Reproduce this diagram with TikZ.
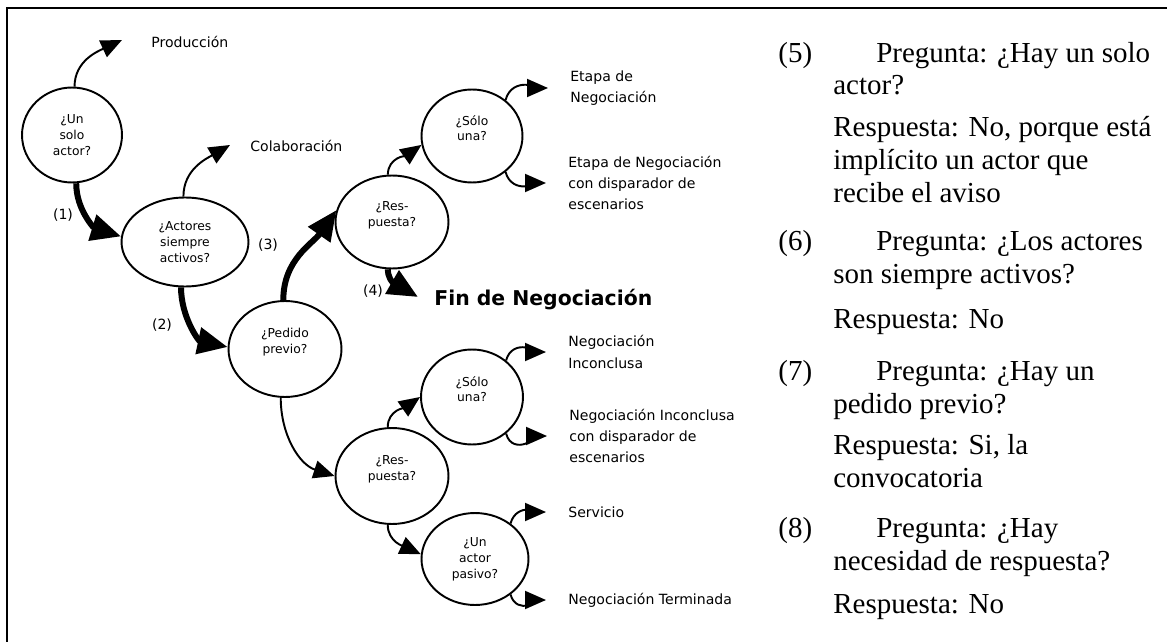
\documentclass[tikz,border=0pt]{standalone}
\usepackage{fontspec}
\setmainfont{Liberation Serif}
\newfontfamily\diagfont{DejaVu Sans}
\usepackage{tikz}
\usetikzlibrary{shapes.geometric, arrows.meta, positioning}

\begin{document}
\begin{tikzpicture}[
    x=0.02cm, y=0.02cm,
    decision/.style={ellipse, draw, line width=1.1pt, inner sep=0pt, align=center, font=\diagfont\fontsize{7}{9}\selectfont},
    outcome/.style={anchor=west, inner sep=0pt, align=left, font=\diagfont\fontsize{8}{12.2}\selectfont},
    num/.style={inner sep=0pt, font=\diagfont\fontsize{8}{10}\selectfont},
    answer/.style={anchor=base west, inner sep=0pt, align=left, font=\fontsize{16.5}{18.7}\selectfont},
    flow/.style={-{Triangle[length=0.42cm, width=0.36cm]}, line width=1.1pt},
    mainflow/.style={-{Triangle[length=0.6cm, width=0.52cm]}, line width=3.4pt},
    tolabel/.style={shorten >=0.44cm}
]
\useasboundingbox (0,0) rectangle (1167,-642);

% Frame
\draw[line width=1.4pt] (7,-642) -- (7,-8) -- (1167,-8);

% Decisions
\node[decision, minimum width=2cm, minimum height=1.9cm] (solo) at (72,-135) {¿Un\\solo\\actor?};
\node[decision, minimum width=2.54cm, minimum height=1.78cm] (activos) at (185,-242) {¿Actores\\siempre\\activos?};
\node[decision, minimum width=2.26cm, minimum height=1.92cm] (pedido) at (285,-349) {¿Pedido\\previo?\\\mbox{}};
\node[decision, minimum width=2.26cm, minimum height=1.86cm] (resp1) at (392,-222) {¿Res-\\puesta?\\\mbox{}};
\node[decision, minimum width=2.02cm, minimum height=1.86cm] (sola1) at (472,-136) {¿Sólo\\una?\\\mbox{}};
\node[decision, minimum width=2.26cm, minimum height=1.92cm] (resp2) at (392,-476) {¿Res-\\puesta?\\\mbox{}};
\node[decision, minimum width=2.04cm, minimum height=1.9cm] (sola2) at (472,-397) {¿Sólo\\una?\\\mbox{}};
\node[decision, minimum width=2.14cm, minimum height=1.84cm] (pasivo) at (475,-559) {¿Un\\actor\\pasivo?};

% Outcomes
\node[outcome] (prod) at (151,-42) {Producción};
\node[outcome] (colab) at (250,-146) {Colaboración};
\node[outcome] (etapa) at (570,-88) {Etapa de\\Negociación};
\node[outcome] (etapadisp) at (568,-183) {Etapa de Negociación\\con disparador de\\escenarios};
\node[outcome] (inconc) at (568,-352) {Negociación\\Inconclusa};
\node[outcome] (inconcdisp) at (569,-436) {Negociación Inconclusa\\con disparador de\\escenarios};
\node[outcome] (servicio) at (568,-512) {Servicio};
\node[outcome] (terminada) at (568,-600) {Negociación Terminada};
\node[anchor=base west, inner sep=0pt, font=\diagfont\bfseries\fontsize{11.6}{14}\selectfont] (fin) at (434,-305) {Fin de Negociación};

% Step numbers
\node[num] (n1) at (63,-215) {(1)};
\node[num] (n2) at (162,-325) {(2)};
\node[num] (n3) at (268,-245) {(3)};
\node[num] (n4) at (373,-291) {(4)};

\coordinate (prodtip) at (122,-40);
\coordinate (colabtip) at (230,-145);
\coordinate (fintip) at (418,-297);

% Main path
\draw[mainflow] (solo.-85) to[out=-90, in=163] (activos.175);
\draw[mainflow] (activos.-95) to[out=-90, in=168] (pedido.178);
\draw[mainflow] (pedido.92) to[out=90, in=235] (resp1.168);
\draw[mainflow] (resp1.-95) to[out=-90, in=150] (fintip);

% Branches
\draw[flow] (solo.87) to[out=90, in=205] (prodtip);
\draw[flow] (activos.92) to[out=90, in=210] (colabtip);
\draw[flow] (resp1.95) to[out=90, in=215] (sola1.190);
\draw[flow, tolabel] (sola1.47) to[out=75, in=180] (etapa.west);
\draw[flow, tolabel] (sola1.-47) to[out=-75, in=180] (etapadisp.west);
\draw[flow] (pedido.-95) to[out=-90, in=162] (resp2.180);
\draw[flow] (resp2.95) to[out=90, in=215] (sola2.180);
\draw[flow, tolabel] (sola2.47) to[out=75, in=180] (inconc.west);
\draw[flow, tolabel] (sola2.-47) to[out=-75, in=180] (inconcdisp.west);
\draw[flow] (resp2.-95) to[out=-90, in=155] (pasivo.175);
\draw[flow, tolabel] (pasivo.45) to[out=75, in=180] (servicio.west);
\draw[flow, tolabel] (pasivo.-45) to[out=-75, in=180] (terminada.west);

% Questions and answers (anchored at the last line)
\node[answer] (q5n) at (778,-63) {(5)};
\node[answer] (q5) at (833,-95) {\hspace*{0.86cm}Pregunta: ¿Hay un solo\\actor?};
\node[answer] (r5) at (833,-202) {Respuesta: No, porque está\\implícito un actor que\\recibe el aviso};
\node[answer] (q6n) at (778,-250) {(6)};
\node[answer] (q6) at (833,-283) {\hspace*{0.86cm}Pregunta: ¿Los actores\\son siempre activos?};
\node[answer] (r6) at (833,-328) {Respuesta: No};
\node[answer] (q7n) at (778,-380) {(7)};
\node[answer] (q7) at (833,-413) {\hspace*{0.86cm}Pregunta: ¿Hay un\\pedido previo?};
\node[answer] (r7) at (833,-487) {Respuesta: Si, la\\convocatoria};
\node[answer] (q8n) at (778,-537) {(8)};
\node[answer] (q8) at (833,-570) {\hspace*{0.86cm}Pregunta: ¿Hay\\necesidad de respuesta?};
\node[answer] (r8) at (833,-613) {Respuesta: No};

\end{tikzpicture}
\end{document}
